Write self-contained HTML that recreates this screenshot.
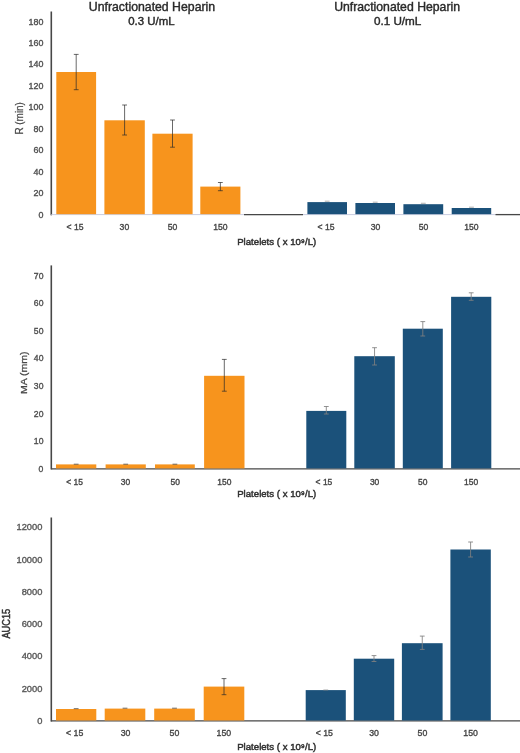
<!DOCTYPE html>
<html><head><meta charset="utf-8"><style>
html,body{margin:0;padding:0;background:#fff;}
body{width:520px;height:753px;overflow:hidden;}
svg{display:block;font-family:"Liberation Sans", sans-serif;filter:blur(0.3px);}
</style></head><body>
<svg width="520" height="753" viewBox="0 0 520 753">
<line x1="51.30" y1="11.50" x2="51.30" y2="215.30" stroke="#474747" stroke-width="1.6"/>
<line x1="51.30" y1="214.60" x2="520.00" y2="214.60" stroke="#c9cde0" stroke-width="1"/>
<line x1="244.00" y1="214.60" x2="303.00" y2="214.60" stroke="#474747" stroke-width="1.3"/>
<line x1="495.50" y1="214.60" x2="520.00" y2="214.60" stroke="#474747" stroke-width="1.3"/>
<rect x="56.30" y="72.00" width="39.80" height="142.20" fill="#F7941D"/>
<rect x="104.40" y="120.30" width="40.40" height="93.90" fill="#F7941D"/>
<rect x="152.40" y="133.70" width="40.20" height="80.50" fill="#F7941D"/>
<rect x="200.30" y="186.60" width="40.10" height="27.60" fill="#F7941D"/>
<rect x="307.40" y="202.10" width="39.60" height="12.10" fill="#1B517A"/>
<rect x="355.40" y="203.00" width="39.60" height="11.20" fill="#1B517A"/>
<rect x="403.40" y="204.20" width="39.80" height="10.00" fill="#1B517A"/>
<rect x="451.70" y="208.00" width="39.50" height="6.20" fill="#1B517A"/>
<line x1="76.20" y1="54.40" x2="76.20" y2="89.70" stroke="#2a2a2a" stroke-width="1" stroke-opacity="0.7"/>
<line x1="73.80" y1="54.40" x2="78.60" y2="54.40" stroke="#2a2a2a" stroke-width="1" stroke-opacity="0.7"/>
<line x1="73.80" y1="89.70" x2="78.60" y2="89.70" stroke="#2a2a2a" stroke-width="1" stroke-opacity="0.7"/>
<line x1="124.60" y1="105.00" x2="124.60" y2="135.00" stroke="#2a2a2a" stroke-width="1" stroke-opacity="0.7"/>
<line x1="122.20" y1="105.00" x2="127.00" y2="105.00" stroke="#2a2a2a" stroke-width="1" stroke-opacity="0.7"/>
<line x1="122.20" y1="135.00" x2="127.00" y2="135.00" stroke="#2a2a2a" stroke-width="1" stroke-opacity="0.7"/>
<line x1="172.50" y1="120.00" x2="172.50" y2="147.20" stroke="#2a2a2a" stroke-width="1" stroke-opacity="0.7"/>
<line x1="170.10" y1="120.00" x2="174.90" y2="120.00" stroke="#2a2a2a" stroke-width="1" stroke-opacity="0.7"/>
<line x1="170.10" y1="147.20" x2="174.90" y2="147.20" stroke="#2a2a2a" stroke-width="1" stroke-opacity="0.7"/>
<line x1="220.35" y1="182.50" x2="220.35" y2="190.70" stroke="#2a2a2a" stroke-width="1" stroke-opacity="0.7"/>
<line x1="217.95" y1="182.50" x2="222.75" y2="182.50" stroke="#2a2a2a" stroke-width="1" stroke-opacity="0.7"/>
<line x1="217.95" y1="190.70" x2="222.75" y2="190.70" stroke="#2a2a2a" stroke-width="1" stroke-opacity="0.7"/>
<line x1="324.80" y1="201.20" x2="329.60" y2="201.20" stroke="#808080" stroke-width="1.1" stroke-opacity="0.6"/>
<line x1="372.80" y1="202.20" x2="377.60" y2="202.20" stroke="#808080" stroke-width="1.1" stroke-opacity="0.6"/>
<line x1="420.90" y1="203.30" x2="425.70" y2="203.30" stroke="#808080" stroke-width="1.1" stroke-opacity="0.6"/>
<line x1="469.05" y1="207.20" x2="473.85" y2="207.20" stroke="#808080" stroke-width="1.1" stroke-opacity="0.6"/>
<text x="38.49" y="217.56" font-size="8.90" font-weight="normal" fill="#4e4e4e" stroke="#4e4e4e" stroke-width="0.35" textLength="4.95" lengthAdjust="spacingAndGlyphs">0</text>
<text x="33.55" y="196.12" font-size="8.90" font-weight="normal" fill="#4e4e4e" stroke="#4e4e4e" stroke-width="0.35" textLength="9.90" lengthAdjust="spacingAndGlyphs">20</text>
<text x="33.55" y="174.67" font-size="8.90" font-weight="normal" fill="#4e4e4e" stroke="#4e4e4e" stroke-width="0.35" textLength="9.90" lengthAdjust="spacingAndGlyphs">40</text>
<text x="33.55" y="153.23" font-size="8.90" font-weight="normal" fill="#4e4e4e" stroke="#4e4e4e" stroke-width="0.35" textLength="9.90" lengthAdjust="spacingAndGlyphs">60</text>
<text x="33.55" y="131.78" font-size="8.90" font-weight="normal" fill="#4e4e4e" stroke="#4e4e4e" stroke-width="0.35" textLength="9.90" lengthAdjust="spacingAndGlyphs">80</text>
<text x="28.59" y="110.34" font-size="8.90" font-weight="normal" fill="#4e4e4e" stroke="#4e4e4e" stroke-width="0.35" textLength="14.86" lengthAdjust="spacingAndGlyphs">100</text>
<text x="28.59" y="88.89" font-size="8.90" font-weight="normal" fill="#4e4e4e" stroke="#4e4e4e" stroke-width="0.35" textLength="14.86" lengthAdjust="spacingAndGlyphs">120</text>
<text x="28.59" y="67.45" font-size="8.90" font-weight="normal" fill="#4e4e4e" stroke="#4e4e4e" stroke-width="0.35" textLength="14.86" lengthAdjust="spacingAndGlyphs">140</text>
<text x="28.59" y="46.01" font-size="8.90" font-weight="normal" fill="#4e4e4e" stroke="#4e4e4e" stroke-width="0.35" textLength="14.86" lengthAdjust="spacingAndGlyphs">160</text>
<text x="28.59" y="24.56" font-size="8.90" font-weight="normal" fill="#4e4e4e" stroke="#4e4e4e" stroke-width="0.35" textLength="14.86" lengthAdjust="spacingAndGlyphs">180</text>
<text x="66.47" y="230.21" font-size="8.60" font-weight="normal" fill="#444444" stroke="#444444" stroke-width="0.35" textLength="16.98" lengthAdjust="spacingAndGlyphs">&lt; 15</text>
<text x="119.63" y="230.22" font-size="8.48" font-weight="normal" fill="#444444" stroke="#444444" stroke-width="0.35" textLength="9.57" lengthAdjust="spacingAndGlyphs">30</text>
<text x="167.72" y="230.22" font-size="8.48" font-weight="normal" fill="#444444" stroke="#444444" stroke-width="0.35" textLength="9.57" lengthAdjust="spacingAndGlyphs">50</text>
<text x="213.17" y="230.22" font-size="8.48" font-weight="normal" fill="#444444" stroke="#444444" stroke-width="0.35" textLength="14.35" lengthAdjust="spacingAndGlyphs">150</text>
<text x="317.47" y="230.21" font-size="8.60" font-weight="normal" fill="#444444" stroke="#444444" stroke-width="0.35" textLength="16.98" lengthAdjust="spacingAndGlyphs">&lt; 15</text>
<text x="370.73" y="230.22" font-size="8.48" font-weight="normal" fill="#444444" stroke="#444444" stroke-width="0.35" textLength="9.57" lengthAdjust="spacingAndGlyphs">30</text>
<text x="418.72" y="230.22" font-size="8.48" font-weight="normal" fill="#444444" stroke="#444444" stroke-width="0.35" textLength="9.57" lengthAdjust="spacingAndGlyphs">50</text>
<text x="464.17" y="230.22" font-size="8.48" font-weight="normal" fill="#444444" stroke="#444444" stroke-width="0.35" textLength="14.35" lengthAdjust="spacingAndGlyphs">150</text>
<text x="237.21" y="245.20" font-size="9.45" font-weight="normal" fill="#303030" stroke="#303030" stroke-width="0.45" textLength="78.99" lengthAdjust="spacingAndGlyphs">Platelets ( x 10⁹/L)</text>
<text transform="translate(23.10,134.62) rotate(-90)" x="0" y="0" font-size="10.04" font-weight="normal" fill="#4a4a4a" stroke="#4a4a4a" stroke-width="0.25" textLength="32.54" lengthAdjust="spacingAndGlyphs">R (min)</text>
<line x1="51.30" y1="265.40" x2="51.30" y2="469.50" stroke="#474747" stroke-width="1.6"/>
<line x1="51.30" y1="468.80" x2="520.00" y2="468.80" stroke="#474747" stroke-width="1.3"/>
<rect x="56.00" y="464.40" width="40.30" height="4.00" fill="#F7941D"/>
<rect x="105.60" y="464.40" width="40.20" height="4.00" fill="#F7941D"/>
<rect x="155.00" y="464.40" width="39.80" height="4.00" fill="#F7941D"/>
<rect x="204.10" y="375.80" width="40.40" height="92.60" fill="#F7941D"/>
<rect x="306.30" y="410.90" width="40.00" height="57.50" fill="#1B517A"/>
<rect x="354.30" y="356.20" width="40.50" height="112.20" fill="#1B517A"/>
<rect x="402.80" y="328.70" width="40.00" height="139.70" fill="#1B517A"/>
<rect x="451.10" y="296.80" width="40.20" height="171.60" fill="#1B517A"/>
<line x1="73.75" y1="464.20" x2="78.55" y2="464.20" stroke="#2a2a2a" stroke-width="1.1" stroke-opacity="0.6"/>
<line x1="123.30" y1="464.20" x2="128.10" y2="464.20" stroke="#2a2a2a" stroke-width="1.1" stroke-opacity="0.6"/>
<line x1="172.50" y1="464.20" x2="177.30" y2="464.20" stroke="#2a2a2a" stroke-width="1.1" stroke-opacity="0.6"/>
<line x1="224.30" y1="359.40" x2="224.30" y2="391.20" stroke="#2a2a2a" stroke-width="1" stroke-opacity="0.7"/>
<line x1="221.90" y1="359.40" x2="226.70" y2="359.40" stroke="#2a2a2a" stroke-width="1" stroke-opacity="0.7"/>
<line x1="221.90" y1="391.20" x2="226.70" y2="391.20" stroke="#2a2a2a" stroke-width="1" stroke-opacity="0.7"/>
<line x1="326.30" y1="406.50" x2="326.30" y2="414.00" stroke="#808080" stroke-width="1" stroke-opacity="0.85"/>
<line x1="323.90" y1="406.50" x2="328.70" y2="406.50" stroke="#808080" stroke-width="1" stroke-opacity="0.85"/>
<line x1="323.90" y1="414.00" x2="328.70" y2="414.00" stroke="#808080" stroke-width="1" stroke-opacity="0.85"/>
<line x1="374.55" y1="347.70" x2="374.55" y2="365.00" stroke="#808080" stroke-width="1" stroke-opacity="0.85"/>
<line x1="372.15" y1="347.70" x2="376.95" y2="347.70" stroke="#808080" stroke-width="1" stroke-opacity="0.85"/>
<line x1="372.15" y1="365.00" x2="376.95" y2="365.00" stroke="#808080" stroke-width="1" stroke-opacity="0.85"/>
<line x1="422.80" y1="321.60" x2="422.80" y2="336.00" stroke="#808080" stroke-width="1" stroke-opacity="0.85"/>
<line x1="420.40" y1="321.60" x2="425.20" y2="321.60" stroke="#808080" stroke-width="1" stroke-opacity="0.85"/>
<line x1="420.40" y1="336.00" x2="425.20" y2="336.00" stroke="#808080" stroke-width="1" stroke-opacity="0.85"/>
<line x1="471.20" y1="292.80" x2="471.20" y2="300.30" stroke="#808080" stroke-width="1" stroke-opacity="0.85"/>
<line x1="468.80" y1="292.80" x2="473.60" y2="292.80" stroke="#808080" stroke-width="1" stroke-opacity="0.85"/>
<line x1="468.80" y1="300.30" x2="473.60" y2="300.30" stroke="#808080" stroke-width="1" stroke-opacity="0.85"/>
<text x="38.64" y="471.71" font-size="8.62" font-weight="normal" fill="#4e4e4e" stroke="#4e4e4e" stroke-width="0.35" textLength="4.80" lengthAdjust="spacingAndGlyphs">0</text>
<text x="33.85" y="444.14" font-size="8.62" font-weight="normal" fill="#4e4e4e" stroke="#4e4e4e" stroke-width="0.35" textLength="9.59" lengthAdjust="spacingAndGlyphs">10</text>
<text x="33.85" y="416.57" font-size="8.62" font-weight="normal" fill="#4e4e4e" stroke="#4e4e4e" stroke-width="0.35" textLength="9.59" lengthAdjust="spacingAndGlyphs">20</text>
<text x="33.85" y="389.00" font-size="8.62" font-weight="normal" fill="#4e4e4e" stroke="#4e4e4e" stroke-width="0.35" textLength="9.59" lengthAdjust="spacingAndGlyphs">30</text>
<text x="33.85" y="361.43" font-size="8.62" font-weight="normal" fill="#4e4e4e" stroke="#4e4e4e" stroke-width="0.35" textLength="9.59" lengthAdjust="spacingAndGlyphs">40</text>
<text x="33.85" y="333.86" font-size="8.62" font-weight="normal" fill="#4e4e4e" stroke="#4e4e4e" stroke-width="0.35" textLength="9.59" lengthAdjust="spacingAndGlyphs">50</text>
<text x="33.85" y="306.29" font-size="8.62" font-weight="normal" fill="#4e4e4e" stroke="#4e4e4e" stroke-width="0.35" textLength="9.59" lengthAdjust="spacingAndGlyphs">60</text>
<text x="33.85" y="278.71" font-size="8.62" font-weight="normal" fill="#4e4e4e" stroke="#4e4e4e" stroke-width="0.35" textLength="9.59" lengthAdjust="spacingAndGlyphs">70</text>
<text x="66.22" y="484.67" font-size="8.46" font-weight="normal" fill="#444444" stroke="#444444" stroke-width="0.35" textLength="16.70" lengthAdjust="spacingAndGlyphs">&lt; 15</text>
<text x="120.81" y="484.67" font-size="8.34" font-weight="normal" fill="#444444" stroke="#444444" stroke-width="0.35" textLength="9.41" lengthAdjust="spacingAndGlyphs">30</text>
<text x="170.49" y="484.67" font-size="8.34" font-weight="normal" fill="#444444" stroke="#444444" stroke-width="0.35" textLength="9.41" lengthAdjust="spacingAndGlyphs">50</text>
<text x="217.29" y="484.67" font-size="8.34" font-weight="normal" fill="#444444" stroke="#444444" stroke-width="0.35" textLength="14.11" lengthAdjust="spacingAndGlyphs">150</text>
<text x="315.62" y="484.67" font-size="8.46" font-weight="normal" fill="#444444" stroke="#444444" stroke-width="0.35" textLength="16.70" lengthAdjust="spacingAndGlyphs">&lt; 15</text>
<text x="369.91" y="484.67" font-size="8.34" font-weight="normal" fill="#444444" stroke="#444444" stroke-width="0.35" textLength="9.41" lengthAdjust="spacingAndGlyphs">30</text>
<text x="417.99" y="484.67" font-size="8.34" font-weight="normal" fill="#444444" stroke="#444444" stroke-width="0.35" textLength="9.41" lengthAdjust="spacingAndGlyphs">50</text>
<text x="463.99" y="484.67" font-size="8.34" font-weight="normal" fill="#444444" stroke="#444444" stroke-width="0.35" textLength="14.11" lengthAdjust="spacingAndGlyphs">150</text>
<text x="237.21" y="497.40" font-size="9.60" font-weight="normal" fill="#303030" stroke="#303030" stroke-width="0.45" textLength="78.99" lengthAdjust="spacingAndGlyphs">Platelets ( x 10⁹/L)</text>
<text transform="translate(27.30,394.07) rotate(-90)" x="0" y="0" font-size="9.89" font-weight="normal" fill="#484848" stroke="#484848" stroke-width="0.3" textLength="42.52" lengthAdjust="spacingAndGlyphs">MA (mm)</text>
<line x1="51.30" y1="517.50" x2="51.30" y2="721.60" stroke="#474747" stroke-width="1.6"/>
<line x1="51.30" y1="720.90" x2="520.00" y2="720.90" stroke="#474747" stroke-width="1.3"/>
<rect x="56.00" y="709.00" width="40.30" height="11.50" fill="#F7941D"/>
<rect x="104.70" y="708.60" width="40.60" height="11.90" fill="#F7941D"/>
<rect x="154.20" y="708.60" width="40.60" height="11.90" fill="#F7941D"/>
<rect x="203.70" y="686.60" width="40.60" height="33.90" fill="#F7941D"/>
<rect x="305.70" y="690.10" width="40.10" height="30.40" fill="#1B517A"/>
<rect x="353.80" y="658.70" width="40.40" height="61.80" fill="#1B517A"/>
<rect x="401.90" y="643.20" width="40.70" height="77.30" fill="#1B517A"/>
<rect x="450.40" y="549.50" width="40.40" height="171.00" fill="#1B517A"/>
<line x1="73.75" y1="708.60" x2="78.55" y2="708.60" stroke="#2a2a2a" stroke-width="1.1" stroke-opacity="0.6"/>
<line x1="122.60" y1="708.20" x2="127.40" y2="708.20" stroke="#2a2a2a" stroke-width="1.1" stroke-opacity="0.6"/>
<line x1="172.10" y1="708.20" x2="176.90" y2="708.20" stroke="#2a2a2a" stroke-width="1.1" stroke-opacity="0.6"/>
<line x1="224.00" y1="678.60" x2="224.00" y2="694.70" stroke="#2a2a2a" stroke-width="1" stroke-opacity="0.7"/>
<line x1="221.60" y1="678.60" x2="226.40" y2="678.60" stroke="#2a2a2a" stroke-width="1" stroke-opacity="0.7"/>
<line x1="221.60" y1="694.70" x2="226.40" y2="694.70" stroke="#2a2a2a" stroke-width="1" stroke-opacity="0.7"/>
<line x1="323.35" y1="690.00" x2="328.15" y2="690.00" stroke="#808080" stroke-width="1.1" stroke-opacity="0.6"/>
<line x1="374.00" y1="655.60" x2="374.00" y2="661.50" stroke="#808080" stroke-width="1" stroke-opacity="0.85"/>
<line x1="371.60" y1="655.60" x2="376.40" y2="655.60" stroke="#808080" stroke-width="1" stroke-opacity="0.85"/>
<line x1="371.60" y1="661.50" x2="376.40" y2="661.50" stroke="#808080" stroke-width="1" stroke-opacity="0.85"/>
<line x1="422.25" y1="636.10" x2="422.25" y2="649.40" stroke="#808080" stroke-width="1" stroke-opacity="0.85"/>
<line x1="419.85" y1="636.10" x2="424.65" y2="636.10" stroke="#808080" stroke-width="1" stroke-opacity="0.85"/>
<line x1="419.85" y1="649.40" x2="424.65" y2="649.40" stroke="#808080" stroke-width="1" stroke-opacity="0.85"/>
<line x1="470.60" y1="542.00" x2="470.60" y2="557.00" stroke="#808080" stroke-width="1" stroke-opacity="0.85"/>
<line x1="468.20" y1="542.00" x2="473.00" y2="542.00" stroke="#808080" stroke-width="1" stroke-opacity="0.85"/>
<line x1="468.20" y1="557.00" x2="473.00" y2="557.00" stroke="#808080" stroke-width="1" stroke-opacity="0.85"/>
<text x="37.18" y="723.71" font-size="8.62" font-weight="normal" fill="#585858" stroke="#585858" stroke-width="0.35" textLength="5.18" lengthAdjust="spacingAndGlyphs">0</text>
<text x="21.65" y="691.51" font-size="8.62" font-weight="normal" fill="#585858" stroke="#585858" stroke-width="0.35" textLength="20.72" lengthAdjust="spacingAndGlyphs">2000</text>
<text x="21.65" y="659.30" font-size="8.62" font-weight="normal" fill="#585858" stroke="#585858" stroke-width="0.35" textLength="20.72" lengthAdjust="spacingAndGlyphs">4000</text>
<text x="21.65" y="627.09" font-size="8.62" font-weight="normal" fill="#585858" stroke="#585858" stroke-width="0.35" textLength="20.72" lengthAdjust="spacingAndGlyphs">6000</text>
<text x="21.65" y="594.88" font-size="8.62" font-weight="normal" fill="#585858" stroke="#585858" stroke-width="0.35" textLength="20.72" lengthAdjust="spacingAndGlyphs">8000</text>
<text x="16.46" y="562.67" font-size="8.62" font-weight="normal" fill="#585858" stroke="#585858" stroke-width="0.35" textLength="25.89" lengthAdjust="spacingAndGlyphs">10000</text>
<text x="16.46" y="530.46" font-size="8.62" font-weight="normal" fill="#585858" stroke="#585858" stroke-width="0.35" textLength="25.89" lengthAdjust="spacingAndGlyphs">12000</text>
<text x="66.03" y="736.06" font-size="8.75" font-weight="normal" fill="#444444" stroke="#444444" stroke-width="0.35" textLength="17.27" lengthAdjust="spacingAndGlyphs">&lt; 15</text>
<text x="120.65" y="736.06" font-size="8.62" font-weight="normal" fill="#444444" stroke="#444444" stroke-width="0.35" textLength="9.73" lengthAdjust="spacingAndGlyphs">30</text>
<text x="169.64" y="736.06" font-size="8.62" font-weight="normal" fill="#444444" stroke="#444444" stroke-width="0.35" textLength="9.73" lengthAdjust="spacingAndGlyphs">50</text>
<text x="216.64" y="736.06" font-size="8.62" font-weight="normal" fill="#444444" stroke="#444444" stroke-width="0.35" textLength="14.59" lengthAdjust="spacingAndGlyphs">150</text>
<text x="315.63" y="736.06" font-size="8.75" font-weight="normal" fill="#444444" stroke="#444444" stroke-width="0.35" textLength="17.27" lengthAdjust="spacingAndGlyphs">&lt; 15</text>
<text x="369.15" y="736.06" font-size="8.62" font-weight="normal" fill="#444444" stroke="#444444" stroke-width="0.35" textLength="9.73" lengthAdjust="spacingAndGlyphs">30</text>
<text x="417.64" y="736.06" font-size="8.62" font-weight="normal" fill="#444444" stroke="#444444" stroke-width="0.35" textLength="9.73" lengthAdjust="spacingAndGlyphs">50</text>
<text x="463.34" y="736.06" font-size="8.62" font-weight="normal" fill="#444444" stroke="#444444" stroke-width="0.35" textLength="14.59" lengthAdjust="spacingAndGlyphs">150</text>
<text x="237.21" y="750.00" font-size="9.16" font-weight="normal" fill="#303030" stroke="#303030" stroke-width="0.45" textLength="78.99" lengthAdjust="spacingAndGlyphs">Platelets ( x 10⁹/L)</text>
<text transform="translate(9.60,638.62) rotate(-90)" x="0" y="0" font-size="10.91" font-weight="normal" fill="#333333" stroke="#333333" stroke-width="0.5" textLength="29.80" lengthAdjust="spacingAndGlyphs">AUC15</text>
<text x="88.85" y="10.80" font-size="11.93" font-weight="normal" fill="#2a2a2a" stroke="#2a2a2a" stroke-width="0.4" textLength="126.27" lengthAdjust="spacingAndGlyphs">Unfractionated Heparin</text>
<text x="128.24" y="25.40" font-size="10.75" font-weight="normal" fill="#2a2a2a" stroke="#2a2a2a" stroke-width="0.4" textLength="46.35" lengthAdjust="spacingAndGlyphs">0.3 U/mL</text>
<text x="334.15" y="10.80" font-size="11.93" font-weight="normal" fill="#2a2a2a" stroke="#2a2a2a" stroke-width="0.4" textLength="125.86" lengthAdjust="spacingAndGlyphs">Unfractionated Heparin</text>
<text x="373.93" y="25.40" font-size="10.75" font-weight="normal" fill="#2a2a2a" stroke="#2a2a2a" stroke-width="0.4" textLength="47.37" lengthAdjust="spacingAndGlyphs">0.1 U/mL</text>
</svg>
</body></html>
